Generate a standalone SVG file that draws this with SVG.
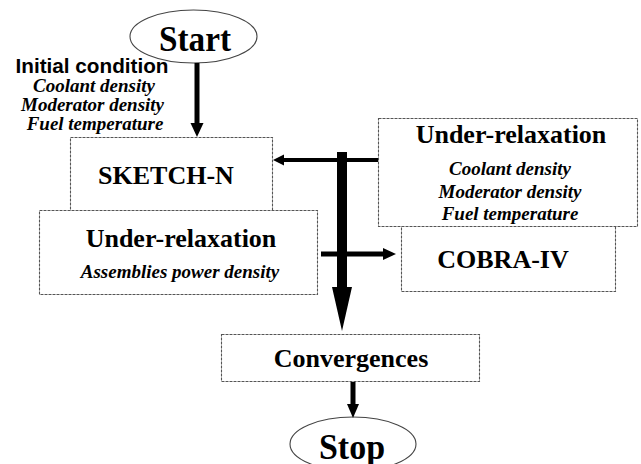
<svg xmlns="http://www.w3.org/2000/svg" width="641" height="464" viewBox="0 0 641 464">
<style>
.box{fill:#fff;stroke:#555;stroke-width:1.1;stroke-dasharray:3 1}
.ell{fill:#fff;stroke:#444;stroke-width:1.1}
.t{font-family:'Liberation Serif','DejaVu Serif','Noto Serif',Times,serif;font-weight:700;fill:#000;text-anchor:middle}
.big{font-size:26px}
.term{font-size:36px}
.it{font-family:'Liberation Serif','DejaVu Serif','Noto Serif',Times,serif;font-weight:700;font-style:italic;font-size:19px;fill:#000;text-anchor:middle}
.sans{font-family:'Liberation Sans',Arial,sans-serif;font-weight:700;font-size:20px;fill:#000;text-anchor:middle}
.ln{stroke:#000;fill:none}
.hd{fill:#000;stroke:none}
</style>
<rect width="641" height="464" fill="#fff"/>

<g id="start">
<ellipse class="ell" cx="193.5" cy="36.5" rx="63.5" ry="26.5"/>
<text class="t term" x="195" y="51" textLength="72" lengthAdjust="spacingAndGlyphs">Start</text>
</g>

<g id="initial-condition">
<text class="sans" x="92" y="73" textLength="153" lengthAdjust="spacingAndGlyphs">Initial condition</text>
<text class="it" x="94" y="92">Coolant density</text>
<text class="it" x="92.5" y="111">Moderator density</text>
<text class="it" x="95" y="130">Fuel temperature</text>
</g>

<g id="sketch-n">
<rect class="box" x="70.5" y="137.5" width="202" height="80"/>
<text class="t big" x="166" y="184">SKETCH-N</text>
</g>

<g id="under-relaxation-left">
<rect class="box" x="39.5" y="210.5" width="278" height="84"/>
<text class="t big" x="181" y="247">Under-relaxation</text>
<text class="it" x="180" y="278">Assemblies power density</text>
</g>

<g id="cobra-iv">
<rect class="box" x="401.5" y="200.5" width="214" height="91"/>
<text class="t big" x="503" y="268">COBRA-IV</text>
</g>

<g id="under-relaxation-right">
<rect class="box" x="378.5" y="118.5" width="259" height="108"/>
<text class="t big" x="511" y="143">Under-relaxation</text>
<text class="it" x="510" y="175">Coolant density</text>
<text class="it" x="510" y="198">Moderator density</text>
<text class="it" x="510" y="220">Fuel temperature</text>
</g>

<g id="convergences">
<rect class="box" x="221.5" y="334.5" width="258" height="47"/>
<text class="t big" x="351" y="367">Convergences</text>
</g>

<g id="stop">
<ellipse class="ell" cx="353" cy="444" rx="63" ry="27"/>
<text class="t term" x="352" y="459" textLength="66" lengthAdjust="spacingAndGlyphs">Stop</text>
</g>

<g id="connectors">
<line class="ln" x1="197" y1="63" x2="197" y2="125" stroke-width="5"/>
<polygon class="hd" points="190.5,123 203.5,123 197,137"/>

<line class="ln" x1="378" y1="160" x2="281" y2="160" stroke-width="4"/>
<polygon class="hd" points="284,154.5 284,165.5 273,160"/>

<line class="ln" x1="342" y1="152" x2="342" y2="290" stroke-width="10"/>
<polygon class="hd" points="332,287 352,287 342,331"/>

<line class="ln" x1="321" y1="254" x2="386" y2="254" stroke-width="5"/>
<polygon class="hd" points="383,248 383,260 396,254"/>

<line class="ln" x1="353" y1="382" x2="353" y2="406" stroke-width="5"/>
<polygon class="hd" points="347,404 359,404 353,418"/>
</g>
</svg>
